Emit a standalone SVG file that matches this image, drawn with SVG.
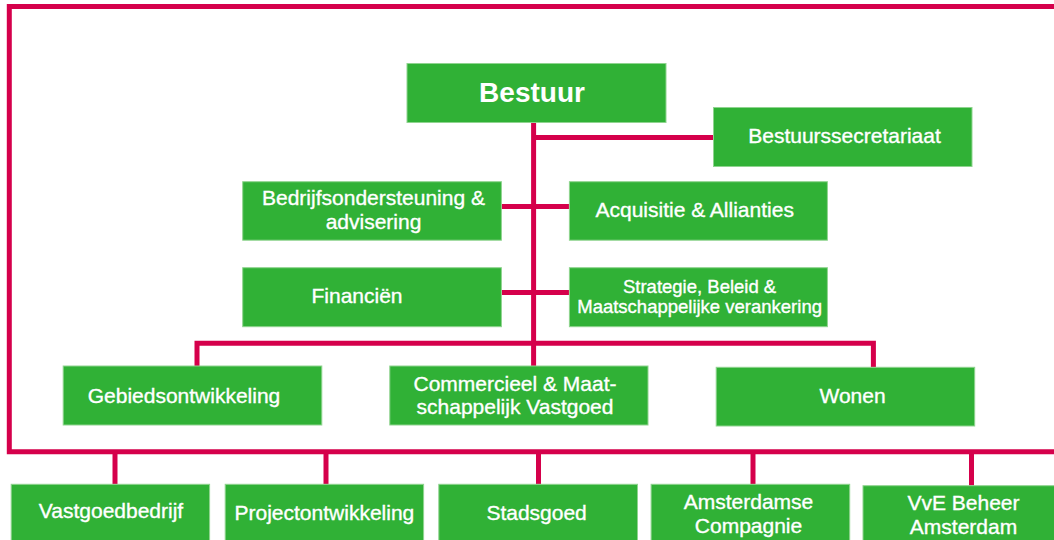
<svg xmlns="http://www.w3.org/2000/svg" width="1054" height="540" viewBox="0 0 1054 540">
<style>
.box{fill:#30b136;stroke:#8fd48f;stroke-width:1}
.ln{stroke:#d5004b;stroke-width:5;fill:none}
text{font-family:"Liberation Sans",Arial,sans-serif;fill:#fff;stroke:#fff;stroke-width:0.35;font-size:21px;text-anchor:middle}
.big{font-size:28px;font-weight:bold;stroke-width:0}
.sm{font-size:18.5px}
</style>
<rect width="1054" height="540" fill="#fff"/>
<g id="connectors">
<path class="ln" d="M1060 6.5 H9.3 V451.7 H1060"/>
<path class="ln" d="M533.6 122 V343.3"/>
<path class="ln" d="M533.6 137.5 H713.5"/>
<path class="ln" d="M501.4 206.5 H569.4"/>
<path class="ln" d="M501.4 292.5 H569.4"/>
<path class="ln" d="M197 366 V343.3 H873.4 V367.3"/>
<path class="ln" d="M533.6 343.3 V366"/>
<path class="ln" d="M115 451.7 V484.3"/>
<path class="ln" d="M326 451.7 V484.3"/>
<path class="ln" d="M538.5 451.7 V484.3"/>
<path class="ln" d="M753 451.7 V484.3"/>
<path class="ln" d="M971.5 451.7 V485.7"/>
</g>
<g id="bestuur"><rect class="box" x="407" y="63.5" width="259" height="59"/><text class="big" x="532" y="101.7">Bestuur</text></g>
<g id="bestuurssecretariaat"><rect class="box" x="713.5" y="107.5" width="258.5" height="59"/><text x="844.5" y="143.3">Bestuurssecretariaat</text></g>
<g id="bedrijfsondersteuning"><rect class="box" x="242.7" y="181.7" width="258.7" height="58.5"/><text x="373.5" y="205">Bedrijfsondersteuning &amp;</text><text x="373.5" y="229">advisering</text></g>
<g id="acquisitie"><rect class="box" x="569.4" y="181.7" width="258" height="58.5"/><text x="694.7" y="216.7">Acquisitie &amp; Allianties</text></g>
<g id="financien"><rect class="box" x="242.7" y="267.7" width="258.7" height="59"/><text x="357" y="303.3">Financiën</text></g>
<g id="strategie"><rect class="box" x="569.4" y="267.7" width="258" height="59"/><text class="sm" x="699.6" y="292.7">Strategie, Beleid &amp;</text><text class="sm" x="699.6" y="313.3">Maatschappelijke verankering</text></g>
<g id="gebiedsontwikkeling"><rect class="box" x="63.2" y="366" width="258.6" height="59"/><text x="184" y="402.7">Gebiedsontwikkeling</text></g>
<g id="commercieel"><rect class="box" x="389.8" y="366" width="258.2" height="59"/><text x="515" y="391">Commercieel &amp; Maat-</text><text x="515" y="414.3">schappelijk Vastgoed</text></g>
<g id="wonen"><rect class="box" x="716.2" y="367.3" width="258.5" height="58.7"/><text x="852.6" y="403.3">Wonen</text></g>
<g id="vastgoedbedrijf"><rect class="box" x="11.2" y="484.3" width="198.4" height="60"/><text x="111" y="518.3">Vastgoedbedrijf</text></g>
<g id="projectontwikkeling"><rect class="box" x="225.2" y="484.3" width="198.4" height="60"/><text x="324.4" y="520">Projectontwikkeling</text></g>
<g id="stadsgoed"><rect class="box" x="438.8" y="484.3" width="198.7" height="60"/><text x="536.6" y="520">Stadsgoed</text></g>
<g id="amsterdamse-compagnie"><rect class="box" x="651.1" y="484.3" width="198.6" height="60"/><text x="748.5" y="509.3">Amsterdamse</text><text x="748.5" y="532.7">Compagnie</text></g>
<g id="vve-beheer"><rect class="box" x="863" y="485.7" width="200" height="60"/><text x="963.5" y="510">VvE Beheer</text><text x="963.5" y="534.3">Amsterdam</text></g>
</svg>
